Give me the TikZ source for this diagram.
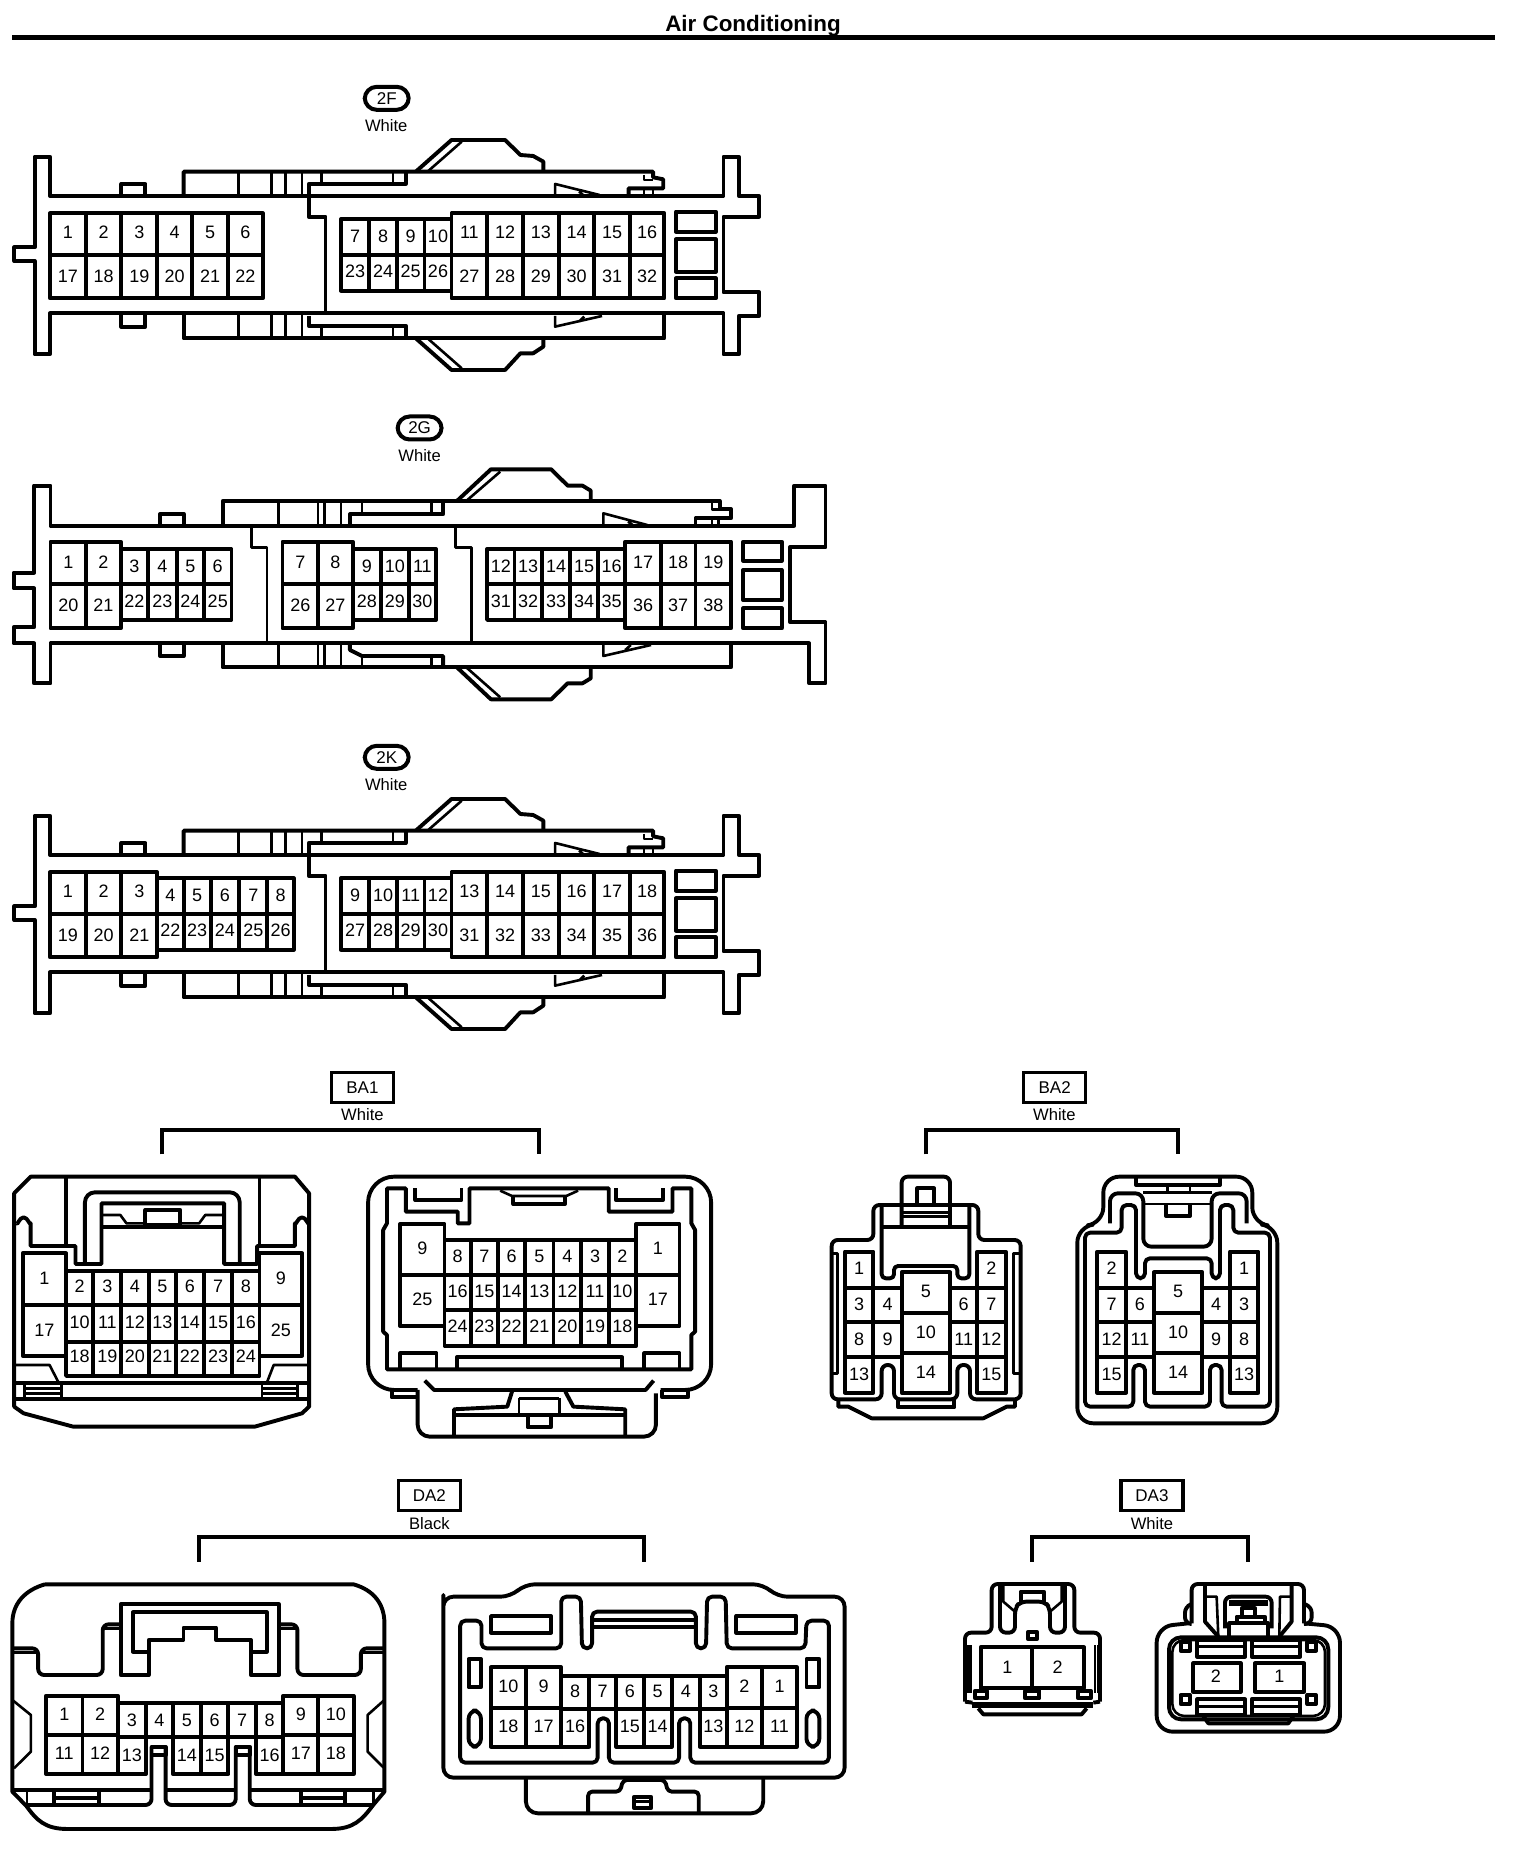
\documentclass[tikz,border=0pt]{standalone}
\usepackage{fontspec}
\setmainfont{Liberation Sans}
\newcounter{pinid}
\tikzset{
  mainline/.style={line width=1.95pt,line join=round},
  thinline/.style={line width=1.3pt,line join=round},
  pinlabel/.style={inner sep=0pt,font=\fontsize{9}{10}\selectfont},
  colorlabel/.style={inner sep=0pt,font=\fontsize{8.3}{10}\selectfont},
  tagoval/.style={draw,line width=2pt,rounded corners=6pt,minimum width=22pt,minimum height=11.5pt,inner sep=0pt,font=\fontsize{8.5}{10}\selectfont},
  tagbox/.style={draw,line width=1.6pt,minimum width=31pt,minimum height=15pt,inner sep=0pt,font=\fontsize{8.5}{10}\selectfont},
  bracket/.style={line width=2pt,line join=miter},
}
\newcommand\pinrow[4]{%
  \foreach \xa/\xb/\tx in {#4}{%
    \draw[mainline] (\xa,#1) rectangle (\xb,#2);
    \stepcounter{pinid}%
    \node[pinlabel] (p\thepinid) at ({(\xa+\xb)/2},#3) {\tx};
  }%
}
% housing shared by 2F and 2K (coordinates of the first crop)
\newcommand\shellA{%
  \draw[mainline] (68,290)--(98,290)--(98,408)--(1418,408)--(1418,290)--(1448,290)--(1448,408)--(1488,408)--(1488,470)--(1418,470)--(1418,697)--(1488,697)--(1488,768)--(1448,768)--(1448,883)--(1418,883)--(1418,760)--(98,760)--(98,883)--(68,883)--(68,603)--(28,603)--(28,562)--(68,562)--cycle;
  \draw[mainline] (238,408)--(238,372)--(285,372)--(285,408);
  \draw[mainline] (238,760)--(238,800)--(285,800)--(285,760);
  \draw[mainline] (360,408)--(360,335)--(1280,335)--(1280,352)--(1300,358)--(1300,385)--(1232,385)--(1232,408);
  \draw[mainline] (795,335)--(795,372)--(605,372)--(605,470)--(638,470)--(638,760);
  \draw[mainline] (605,768)--(605,797)--(795,797)--(795,835);
  \draw[mainline] (360,760)--(360,835)--(1302,835)--(1302,760);
  \foreach \vx in {468,532,560,592}{\draw[thinline] (\vx,335)--(\vx,408) (\vx,760)--(\vx,835);}
  \draw[thinline] (630,335)--(630,372) (630,797)--(630,835) (770,335)--(770,372) (770,797)--(770,835);
  \draw[thinline] (1262,345)--(1262,360)--(1280,360) (1262,385)--(1262,408) (1280,385)--(1280,408);
  \draw[mainline] (815,335)--(885,240)--(990,240)--(1020,285)--(1045,288)--(1065,305)--(1065,335);
  \draw[thinline] (838,335)--(905,245);
  \draw[mainline] (815,835)--(885,930)--(990,930)--(1020,880)--(1045,880)--(1065,860)--(1065,835);
  \draw[thinline] (838,835)--(905,925);
  \draw[thinline] (1088,408)--(1088,372)--(1175,405) (1135,395)--(1145,408);
  \draw[thinline] (1088,768)--(1088,800)--(1180,768) (1135,785)--(1145,770);
  \foreach \ya/\yb in {455/515,538/635,655/715}{\draw[mainline] (1325,\ya) rectangle (1403,\yb);}
}
\begin{document}
\begin{tikzpicture}[x=0.5pt,y=-0.5pt]
\useasboundingbox (0,0) rectangle (1520,1850);
\node[font=\bfseries\fontsize{11.2}{12}\selectfont,inner sep=0pt] (title) at (753,26) {Air Conditioning};
\draw[line width=2.5pt] (12,38)--(1495,38);

% ---------- 2F ----------
\begin{scope}[shift={(0,60)},xscale=0.5102,yscale=0.3333]
\node[tagoval] (tagTwoF) at (758,115) {2F};
\node[colorlabel] (colTwoF) at (757,198) {White};
\shellA
\pinrow{460}{585}{518}{98/168/1,168/238/2,238/308/3,308/377/4,377/447/5,447/515/6}
\pinrow{585}{715}{648}{98/168/17,168/238/18,238/308/19,308/377/20,377/447/21,447/515/22}
\pinrow{478}{585}{528}{668/724/7,724/778/8,778/832/9,832/885/10}
\pinrow{585}{692}{635}{668/724/23,724/778/24,778/832/25,832/885/26}
\pinrow{460}{585}{518}{885/955/11,955/1025/12,1025/1095/13,1095/1165/14,1165/1235/15,1235/1302/16}
\pinrow{585}{715}{648}{885/955/27,955/1025/28,1025/1095/29,1095/1165/30,1165/1235/31,1235/1302/32}
\end{scope}

% ---------- 2K ----------
\begin{scope}[shift={(0,719)},xscale=0.5102,yscale=0.3333]
\node[tagoval] (tagTwoK) at (758,115) {2K};
\node[colorlabel] (colTwoK) at (757,198) {White};
\shellA
\pinrow{460}{585}{518}{98/168/1,168/238/2,238/308/3}
\pinrow{585}{715}{648}{98/168/19,168/238/20,238/308/21}
\pinrow{478}{585}{528}{308/360/4,360/413/5,413/469/6,469/524/7,524/576/8}
\pinrow{585}{692}{635}{308/360/22,360/413/23,413/469/24,469/524/25,524/576/26}
\pinrow{478}{585}{528}{668/724/9,724/778/10,778/832/11,832/885/12}
\pinrow{585}{692}{635}{668/724/27,724/778/28,778/832/29,832/885/30}
\pinrow{460}{585}{518}{885/955/13,955/1025/14,1025/1095/15,1095/1165/16,1165/1235/17,1235/1302/18}
\pinrow{585}{715}{648}{885/955/31,955/1025/32,1025/1095/33,1095/1165/34,1165/1235/35,1235/1302/36}
\end{scope}

% ---------- 2G ----------
\begin{scope}[shift={(0,420)},xscale=0.5485,yscale=0.3333]
\node[tagoval] (tagTwoG) at (765,24) {2G};
\node[colorlabel] (colTwoG) at (765,108) {White};
\draw[mainline] (62,197)--(92,197)--(92,317)--(1448,317)--(1448,197)--(1505,197)--(1505,382)--(1440,382)--(1440,606)--(1505,606)--(1505,790)--(1475,790)--(1475,670)--(92,670)--(92,790)--(62,790)--(62,670)--(25,670)--(25,622)--(62,622)--(62,505)--(25,505)--(25,458)--(62,458)--cycle;
\draw[mainline] (292,317)--(292,282)--(335,282)--(335,317);
\draw[mainline] (292,670)--(292,708)--(335,708)--(335,670);
\draw[mainline] (406,317)--(406,243)--(1312,243)--(1312,268)--(1333,268)--(1333,295)--(1268,295)--(1268,317);
\draw[mainline] (808,243)--(808,283)--(638,283)--(638,317);
\draw[mainline] (406,670)--(406,742)--(1333,742)--(1333,670);
\draw[mainline] (638,670)--(638,690)--(660,708)--(808,708)--(808,742);
\foreach \vx in {508,580,592,622}{\draw[thinline] (\vx,243)--(\vx,317) (\vx,670)--(\vx,742);}
\draw[thinline] (660,243)--(660,283) (660,708)--(660,742) (787,243)--(787,283) (787,708)--(787,742);
\draw[thinline] (1298,250)--(1298,268)--(1312,268) (1298,295)--(1298,317) (1310,295)--(1310,317);
\draw[thinline] (458,317)--(458,382)--(487,382)--(487,670);
\draw[thinline] (830,317)--(830,382)--(860,382)--(860,670);
\draw[mainline] (833,243)--(895,148)--(1005,148)--(1035,197)--(1062,197)--(1077,212)--(1077,243);
\draw[thinline] (850,243)--(912,155);
\draw[mainline] (833,742)--(895,838)--(1005,838)--(1035,790)--(1062,790)--(1077,775)--(1077,742);
\draw[thinline] (850,742)--(912,832);
\draw[thinline] (1100,317)--(1100,280)--(1180,315) (1145,305)--(1155,317);
\draw[thinline] (1100,670)--(1100,708)--(1187,675) (1140,690)--(1150,675);
\foreach \ya/\yb in {365/422,450/540,565/625}{\draw[mainline] (1355,\ya) rectangle (1425,\yb);}
\pinrow{365}{492}{428}{92/157/1,157/220/2}
\pinrow{492}{625}{555}{92/157/20,157/220/21}
\pinrow{387}{492}{438}{220/270/3,270/322/4,322/372/5,372/422/6}
\pinrow{492}{600}{545}{220/270/22,270/322/23,322/372/24,372/422/25}
\pinrow{365}{492}{428}{515/580/7,580/643/8}
\pinrow{492}{625}{555}{515/580/26,580/643/27}
\pinrow{387}{492}{438}{643/695/9,695/745/10,745/795/11}
\pinrow{492}{600}{545}{643/695/28,695/745/29,745/795/30}
\pinrow{387}{492}{438}{888/938/12,938/988/13,988/1040/14,1040/1090/15,1090/1140/16}
\pinrow{492}{600}{545}{888/938/31,938/988/32,988/1040/33,1040/1090/34,1090/1140/35}
\pinrow{365}{492}{428}{1140/1205/17,1205/1268/18,1268/1333/19}
\pinrow{492}{625}{555}{1140/1205/36,1205/1268/37,1268/1333/38}
\end{scope}

% ---------- BA1 ----------
\begin{scope}[shift={(0,1060)},xscale=0.4719,yscale=0.3333]
\node[tagbox] (tagBAone) at (768,82) {BA1};
\node[colorlabel] (colBAone) at (768,165) {White};
\draw[bracket] (343,283)--(343,210)--(1142,210)--(1142,283);
% left view
\draw[mainline] (30,400)--(65,350)--(625,350)--(655,400)--(655,1040)--(640,1060)--(540,1100)--(155,1100)--(50,1060)--(30,1040)--cycle;
\draw[mainline] (30,970)--(655,970) (30,1018)--(655,1018);
\draw[thinline] (52,970)--(52,1018) (130,970)--(130,1018) (555,970)--(555,1018) (630,970)--(630,1018);
\draw[thinline] (52,985)--(130,985) (52,1000)--(130,1000) (555,985)--(630,985) (555,1000)--(630,1000);
\draw[thinline] (30,915)--(105,915)--(125,970) (655,915)--(580,915)--(565,970);
\draw[mainline] (35,490) to[out=-80,in=180] (50,472) to[out=0,in=-100] (65,490)--(65,558)--(160,558)--(160,612)--(215,612)--(215,430)--(475,430)--(475,612)--(545,612)--(545,558)--(625,558)--(625,490) to[out=-80,in=180] (640,472) to[out=0,in=-100] (655,490);
\draw[mainline,rounded corners=3pt] (140,558)--(140,355) (550,558)--(550,355);
\draw[mainline,rounded corners=5pt] (180,612)--(180,397)--(508,397)--(508,612);
\draw[thinline] (215,465)--(255,465)--(268,490)--(308,490) (475,465)--(435,465)--(422,490)--(382,490);
\draw[mainline] (215,500)--(475,500);
\draw[mainline] (308,450) rectangle (382,495);
\pinrow{580}{735}{655}{48/140/1,550/640/9}
\pinrow{735}{887}{810}{48/140/17,550/640/25}
\pinrow{632}{735}{680}{140/198/2,198/257/3,257/315/4,315/373/5,373/432/6,432/492/7,492/550/8}
\pinrow{735}{845}{787}{140/198/10,198/257/11,257/315/12,315/373/13,373/432/14,432/492/15,492/550/16}
\pinrow{845}{948}{890}{140/198/18,198/257/19,257/315/20,315/373/21,373/432/22,432/492/23,492/550/24}
% right view
\draw[mainline,rounded corners=13pt] (885,990)--(780,990)--(780,350)--(1507,350)--(1507,990)--(1400,990);
\draw[mainline] (830,990)--(830,1012)--(885,1012) (1403,990)--(1403,1012)--(1458,1012)--(1458,990);
\draw[mainline,rounded corners=6pt] (885,990)--(885,1130)--(1390,1130)--(1390,1000);
\draw[mainline] (820,928)--(820,825)--(812,815)--(812,510)--(820,490)--(820,385)--(860,385)--(860,455)--(970,455)--(970,490)--(995,490)--(995,385)--(1060,385)--(1225,385)--(1290,385)--(1290,455)--(1425,455)--(1425,385)--(1465,385)--(1465,490)--(1473,510)--(1473,815)--(1465,825)--(1465,928)--cycle;
\draw[mainline] (880,385)--(880,420)--(978,420)--(978,385);
\draw[mainline] (1305,385)--(1305,420)--(1405,420)--(1405,385);
\draw[thinline] (1060,392)--(1085,408)--(1200,408)--(1225,392);
\draw[mainline] (1088,410)--(1088,432)--(1197,432)--(1197,410);
\draw[mainline] (848,928)--(848,880)--(925,880)--(925,928);
\draw[mainline] (1365,928)--(1365,880)--(1440,880)--(1440,928);
\draw[mainline] (968,928)--(968,892)--(1318,892)--(1318,928);
\draw[mainline] (900,962)--(920,990)--(1368,990)--(1385,962);
\draw[mainline] (1085,995)--(1075,1040)--(962,1048)--(962,1130);
\draw[mainline] (1198,995)--(1215,1040)--(1325,1048)--(1325,1130);
\draw[mainline] (962,1065)--(1325,1065);
\draw[thinline] (1100,1015)--(1185,1015) (1100,1015)--(1100,1065) (1185,1015)--(1185,1065);
\draw[mainline] (1118,1065)--(1118,1102)--(1168,1102)--(1168,1065);
\pinrow{492}{645}{565}{848/942/9,1348/1440/1}
\pinrow{645}{798}{718}{848/942/25,1348/1440/17}
\pinrow{540}{645}{590}{942/998/8,998/1055/7,1055/1113/6,1113/1173/5,1173/1232/4,1232/1290/3,1290/1348/2}
\pinrow{645}{750}{695}{942/998/16,998/1055/15,1055/1113/14,1113/1173/13,1173/1232/12,1232/1290/11,1290/1348/10}
\pinrow{750}{858}{800}{942/998/24,998/1055/23,1055/1113/22,1113/1173/21,1173/1232/20,1232/1290/19,1290/1348/18}
\end{scope}

% ---------- BA2 ----------
\begin{scope}[shift={(820,1060)},xscale=0.3333,yscale=0.3333]
\node[tagbox] (tagBAtwo) at (704,82) {BA2};
\node[colorlabel] (colBAtwo) at (703,165) {White};
\draw[bracket] (318,283)--(318,210)--(1075,210)--(1075,283);
% left view
\draw[mainline,rounded corners=3pt] (185,915)--(185,1018)--(35,1018)--(35,540)--(160,540)--(160,435)--(475,435)--(475,540)--(602,540)--(602,1018)--(450,1018)--(450,915)--(412,915)--(412,1018)--(222,1018)--(222,915)--cycle;
\draw[mainline] (55,1018)--(55,1040)--(85,1040)--(155,1075)--(490,1075)--(560,1040)--(585,1040)--(585,1018);
\draw[mainline] (235,1018)--(235,1042)--(403,1042)--(403,1018);
\draw[thinline] (35,580)--(52,580)--(52,940)--(35,940) (602,580)--(580,580)--(580,940)--(602,940);
\draw[mainline,rounded corners=3pt] (245,500)--(245,350)--(390,350)--(390,500);
\draw[mainline] (292,435)--(292,385)--(342,385)--(342,435);
\draw[thinline] (245,458)--(390,458) (245,470)--(390,470);
\draw[mainline] (185,500)--(445,500);
\draw[mainline,rounded corners=2pt] (185,435)--(185,655)--(222,655)--(222,618)--(412,618)--(412,655)--(448,655)--(448,435);
\pinrow{575}{683}{625}{75/160/1,472/557/2}
\pinrow{683}{787}{733}{75/160/3,160/245/4,390/472/6,472/557/7}
\pinrow{787}{892}{838}{75/160/8,160/245/9,390/472/11,472/557/12}
\pinrow{892}{998}{943}{75/160/13,472/557/15}
\pinrow{637}{760}{695}{245/390/5}
\pinrow{760}{880}{817}{245/390/10}
\pinrow{880}{998}{938}{245/390/14}
% right view
\draw[mainline,rounded corners=8pt] (850,490)--(850,350)--(1297,350)--(1297,490)--(1372,500)--(1372,1090)--(772,1090)--(772,500)--cycle;
\draw[mainline,rounded corners=2.5pt] (795,1040)--(795,518)--(905,518)--(905,435)--(948,435)--(948,655)--(975,655)--(975,595)--(1175,595)--(1175,655)--(1200,655)--(1200,435)--(1240,435)--(1240,518)--(1350,518)--(1350,1040)--(1205,1040)--(1205,915)--(1170,915)--(1170,1040)--(975,1040)--(975,915)--(940,915)--(940,1040)--cycle;
\draw[mainline,rounded corners=4pt] (870,490)--(870,400)--(970,400)--(970,560)--(1175,560)--(1175,400)--(1280,400)--(1280,490);
\draw[thinline] (970,432)--(1175,432);
\draw[mainline] (948,353)--(948,375)--(1200,375)--(1200,353);
\draw[thinline] (1042,375)--(1042,400) (1110,375)--(1110,400) (970,397)--(1175,397);
\draw[mainline] (1038,432)--(1038,468)--(1110,468)--(1110,432);
\pinrow{575}{683}{625}{832/918/2,1230/1315/1}
\pinrow{683}{787}{733}{832/918/7,918/1002/6,1147/1230/4,1230/1315/3}
\pinrow{787}{892}{838}{832/918/12,918/1002/11,1147/1230/9,1230/1315/8}
\pinrow{892}{998}{943}{832/918/15,1230/1315/13}
\pinrow{637}{760}{695}{1002/1147/5}
\pinrow{760}{880}{817}{1002/1147/10}
\pinrow{880}{998}{938}{1002/1147/14}
\end{scope}

% ---------- DA2 ----------
\begin{scope}[shift={(0,1480)},xscale=0.5612,yscale=0.3333]
\node[tagbox] (tagDAtwo) at (765,47) {DA2};
\node[colorlabel] (colDAtwo) at (765,130) {Black};
\draw[bracket] (355,245)--(355,172)--(1147,172)--(1147,245);
% left view
\draw[mainline] (80,313)--(630,313) .. controls (665,330) and (685,370) .. (685,430)--(685,935)--(665,975) .. controls (645,1020) and (630,1047) .. (590,1047)--(120,1047) .. controls (80,1047) and (65,1020) .. (47,978)--(22,935)--(22,430) .. controls (22,370) and (45,330) .. (80,313);
\draw[mainline] (22,930)--(270,930) (295,930)--(420,930) (445,930)--(685,930);
\draw[mainline,rounded corners=3pt] (45,975)--(270,975)--(270,800) (295,800)--(295,975)--(420,975)--(420,800) (445,800)--(445,975)--(665,975);
\draw[thinline] (48,930)--(48,975) (665,930)--(665,975);
\draw[mainline] (97,930)--(97,975) (177,930)--(177,975) (537,930)--(537,975) (615,930)--(615,975);
\draw[mainline] (97,953)--(177,953) (537,953)--(615,953);
\draw[thinline] (22,660)--(55,705)--(55,815)--(25,865) (685,660)--(655,705)--(655,815)--(685,865);
\draw[mainline,rounded corners=3pt] (22,505)--(68,505)--(68,585)--(183,585)--(183,433)--(215,433);
\draw[mainline,rounded corners=3pt] (685,505)--(643,505)--(643,585)--(530,585)--(530,433)--(497,433);
\draw[thinline] (22,518)--(68,518) (183,445)--(215,445) (685,518)--(643,518) (530,445)--(497,445);
\draw[mainline] (215,585)--(215,373)--(497,373)--(497,585)--(447,585)--(447,480)--(385,480)--(385,443)--(327,443)--(327,480)--(265,480)--(265,585)--cycle;
\draw[mainline] (265,515)--(237,515)--(237,397)--(475,397)--(475,515)--(447,515);
\pinrow{647}{765}{702}{82/147/1,147/210/2,505/567/9,567/630/10}
\pinrow{765}{882}{820}{82/147/11,147/210/12,505/567/17,567/630/18}
\pinrow{670}{772}{720}{210/260/3,260/308/4,308/358/5,358/407/6,407/456/7,456/505/8}
\pinrow{772}{882}{825}{210/260/13,308/358/14,358/407/15,456/505/16}
\draw[mainline] (270,800) rectangle (295,825) (420,800) rectangle (445,825);
% right view
\draw[mainline,rounded corners=5pt] (790,375)--(790,350)--(910,350)--(935,313)--(1360,313)--(1385,350)--(1505,350)--(1505,893)--(790,893)--cycle;
\draw[mainline,rounded corners=6pt] (937,893)--(937,1000)--(1360,1000)--(1360,893);
\draw[mainline,rounded corners=2pt] (1048,1000)--(1048,935)--(1105,935)--(1110,900)--(1185,900)--(1190,935)--(1245,935)--(1245,1000);
\draw[mainline] (1130,950) rectangle (1160,985);
\draw[thinline] (1130,965)--(1160,965);
\draw[mainline,rounded corners=2.5pt] (820,848)--(820,422)--(858,422)--(858,505)--(1000,505)--(1000,350)--(1035,350)--(1037,505)--(1055,505)--(1055,395)--(1240,395)--(1240,505)--(1258,505)--(1260,350)--(1293,350)--(1295,505)--(1435,505)--(1437,422)--(1477,422)--(1477,848)--(1230,848)--(1230,715)--(1210,715)--(1210,848)--(1085,848)--(1085,715)--(1065,715)--(1065,848)--cycle;
\draw[mainline] (1055,420)--(1240,420) (1055,440)--(1240,440);
\draw[mainline] (875,408) rectangle (982,458) (1312,408) rectangle (1418,458);
\draw[mainline] (835,537) rectangle (857,622) (1437,537) rectangle (1460,622);
\draw[mainline,rounded corners=4pt] (835,692) rectangle (857,800) (1437,692) rectangle (1460,800);
\pinrow{562}{685}{620}{875/937/10,937/1000/9,1295/1358/2,1358/1420/1}
\pinrow{685}{800}{738}{875/937/18,937/1000/17,1295/1358/12,1358/1420/11}
\pinrow{587}{688}{635}{1000/1050/8,1050/1098/7,1098/1147/6,1147/1197/5,1197/1247/4,1247/1295/3}
\pinrow{688}{800}{740}{1000/1050/16,1098/1147/15,1147/1197/14,1247/1295/13}
\end{scope}

% ---------- DA3 ----------
\begin{scope}[shift={(940,1480)},xscale=0.3333,yscale=0.3333]
\node[tagbox] (tagDAthree) at (636,47) {DA3};
\node[colorlabel] (colDAthree) at (636,130) {White};
\draw[bracket] (277,245)--(277,172)--(925,172)--(925,245);
% left view
\draw[mainline,rounded corners=3pt] (75,665)--(75,458)--(155,458)--(155,312)--(403,312)--(403,458)--(480,458)--(480,665);
\draw[mainline,rounded corners=3pt] (180,315)--(180,458)--(225,458)--(225,385)--(240,365)--(315,365)--(330,385)--(330,458)--(375,458)--(375,315);
\draw[thinline] (190,315)--(190,365)--(225,395) (365,315)--(365,365)--(330,395);
\draw[mainline] (242,370)--(242,335)--(312,335)--(312,370);
\draw[mainline] (265,455) rectangle (290,478);
\draw[mainline] (122,502) rectangle (432,625);
\draw[thinline] (85,495)--(85,640) (92,495)--(92,640) (465,495)--(465,640) (475,495)--(475,640);
\draw[mainline] (105,632) rectangle (140,655) (255,632) rectangle (298,655) (415,632) rectangle (452,655);
\draw[line width=3pt] (97,675)--(460,675);
\draw[mainline] (75,665)--(97,668) (480,665)--(460,668);
\draw[mainline] (115,685)--(130,703)--(425,703)--(440,685);
\draw[mainline] (275,502)--(275,625);
\stepcounter{pinid}\node[pinlabel] (p\thepinid) at (202,562) {1};
\stepcounter{pinid}\node[pinlabel] (p\thepinid) at (353,562) {2};
% right view
\draw[mainline,rounded corners=8pt] (745,430)--(650,440)--(650,755)--(1200,755)--(1200,440)--(1092,430);
\draw[mainline,rounded corners=3pt] (755,430)--(755,312)--(1092,312)--(1092,430);
\draw[mainline,rounded corners=3pt] (755,372)--(735,380)--(735,430)--(755,432) (1092,372)--(1115,380)--(1115,430)--(1092,432);
\draw[mainline,rounded corners=6pt] (687,472) rectangle (1165,718);
\draw[thinline,rounded corners=6pt] (697,480) rectangle (1155,708);
\draw[mainline] (795,315)--(795,425)--(835,470) (1055,315)--(1055,425)--(1018,470);
\draw[thinline] (795,350)--(830,350)--(835,470) (1055,350)--(1020,350)--(1018,470);
\draw[mainline,rounded corners=3pt] (855,445)--(855,350)--(995,350)--(995,445);
\draw[line width=3pt] (868,368)--(985,368);
\draw[mainline] (868,470)--(868,430)--(985,430)--(985,470);
\draw[mainline] (890,410) rectangle (975,430) (905,385) rectangle (945,410);
\draw[mainline] (772,480) rectangle (915,530) (935,480) rectangle (1080,530);
\draw[thinline] (772,500)--(915,500) (935,500)--(1080,500);
\draw[mainline] (772,658) rectangle (915,705) (935,658) rectangle (1080,705);
\draw[thinline] (772,680)--(915,680) (935,680)--(1080,680);
\draw[mainline] (722,485) rectangle (750,512) (1102,485) rectangle (1128,512) (722,645) rectangle (750,672) (1102,645) rectangle (1128,672);
\draw[mainline] (790,708)--(805,730)--(1045,730)--(1060,708);
\draw[mainline] (760,550) rectangle (902,635) (945,550) rectangle (1092,635);
\stepcounter{pinid}\node[pinlabel] (p\thepinid) at (828,590) {2};
\stepcounter{pinid}\node[pinlabel] (p\thepinid) at (1018,590) {1};
\end{scope}
\end{tikzpicture}
\end{document}
